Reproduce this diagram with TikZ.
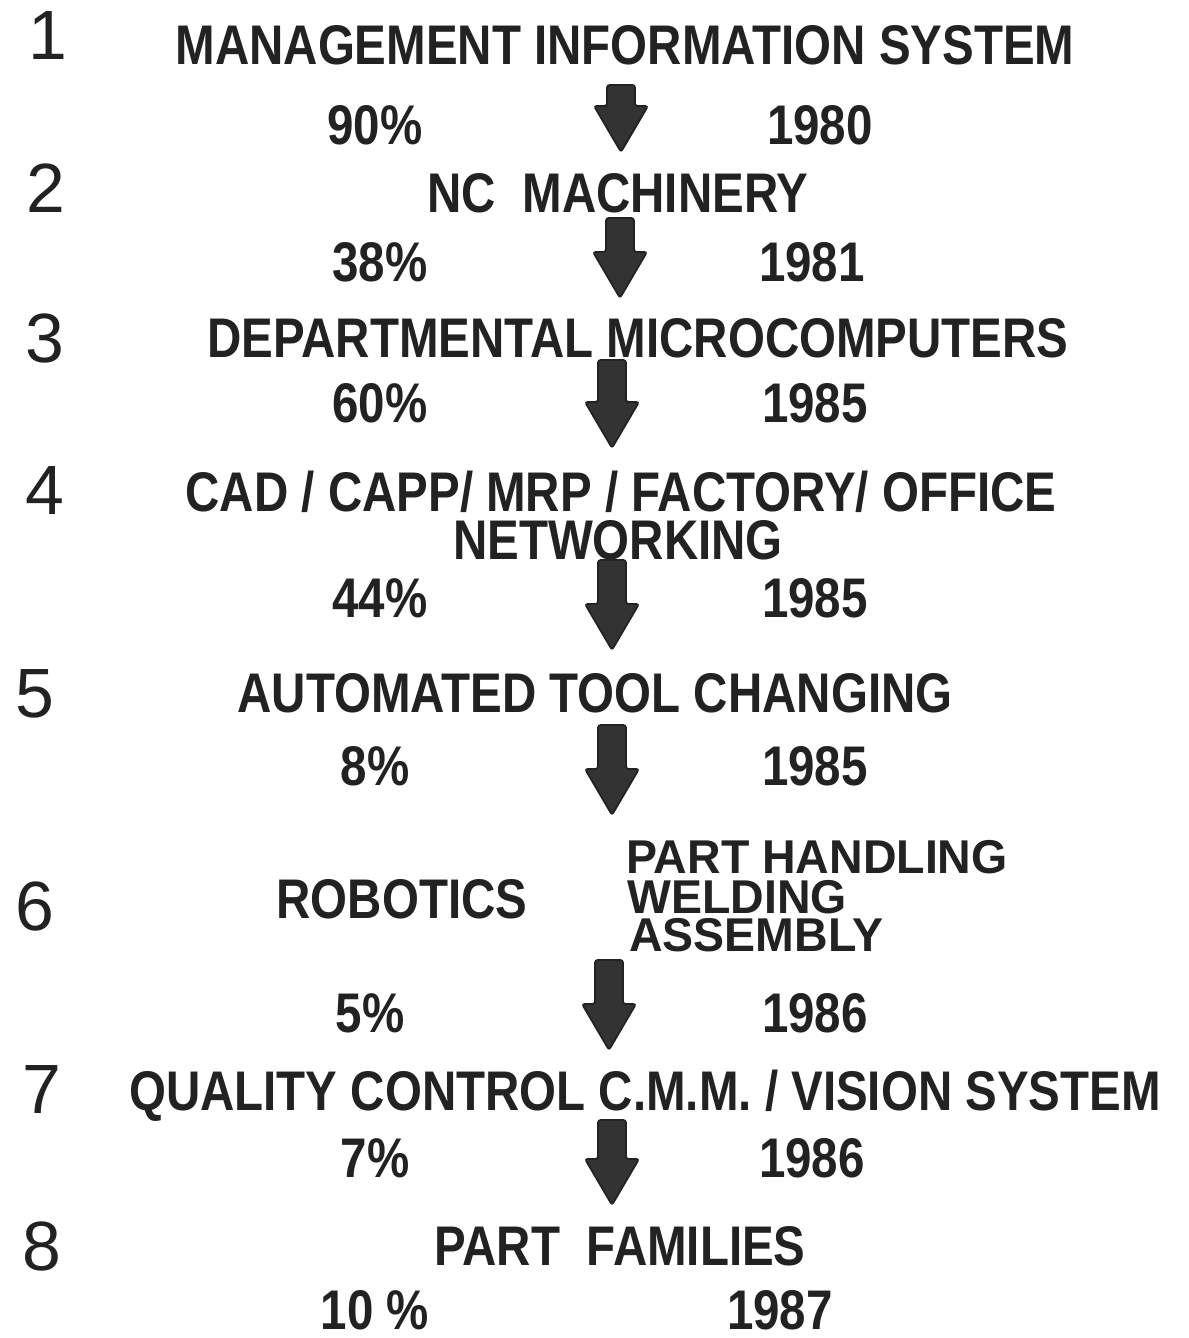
\documentclass[tikz,border=0pt]{standalone}
\usepackage{fontspec}
\setmainfont{Liberation Sans}
\newfontfamily\lettering[FakeStretch=0.85]{Liberation Sans}
\newfontfamily\stacklettering[FakeStretch=0.98]{Liberation Sans}
\usetikzlibrary{positioning}

\definecolor{ink}{HTML}{222222}
\definecolor{arrowink}{HTML}{333333}

% down arrow: x centre, shaft top, tip
\newcommand{\dnarrow}[3]{%
  \fill[arrowink, draw=ink, line width=1pt, rounded corners=1.5pt]
    (#1-14,#2) -- (#1+14,#2) -- (#1+14,#3-46) -- (#1+27,#3-46) -- (#1,#3)
    -- (#1-27,#3-46) -- (#1-14,#3-46) -- cycle;}

\begin{document}
\begin{tikzpicture}[x=0.02cm, y=-0.02cm,
    stepno/.style = {inner sep=0pt, text=ink, text height=1cm, text depth=0pt, font=\fontsize{39.7}{44}\selectfont},
    title/.style  = {inner sep=0pt, text=ink, text height=0.8cm, text depth=0pt, font=\lettering\bfseries\fontsize{31.8}{36}\selectfont},
    stack/.style  = {inner sep=0pt, text=ink, text height=0.68cm, text depth=0pt, anchor=west, font=\stacklettering\bfseries\fontsize{27}{30}\selectfont},
    figure/.style = {title}
]
\useasboundingbox (0,0) rectangle (1189,1338);

% Step numbers
\node (n1) [stepno] at (48, 35) {1};
\node (n2) [stepno] at (46, 188) {2};
\node (n3) [stepno] at (45, 338) {3};
\node (n4) [stepno] at (45, 490) {4};
\node (n5) [stepno] at (35, 692) {5};
\node (n6) [stepno] at (35, 905) {6};
\node (n7) [stepno] at (42, 1088) {7};
\node (n8) [stepno] at (42, 1245) {8};

% Technologies
\node (t1) [title] at (625, 45) {MANAGEMENT INFORMATION SYSTEM};
\node (t2) [title] at (618, 193) {NC\ \ MACHINERY};
\node (t3) [title] at (638, 338) {DEPARTMENTAL MICROCOMPUTERS};
\node (t4) [title] at (621, 491) {CAD / CAPP/ MRP / FACTORY/ OFFICE};
\node (t4b) [title] at (618, 539) {NETWORKING};
\node (t5) [title] at (595, 692) {AUTOMATED TOOL CHANGING};
\node (t6) [title] at (402, 898) {ROBOTICS};
\node (t6a) [stack] at (626, 856) {PART HANDLING};
\node (t6b) [stack] at (627, 896) {WELDING};
\node (t6c) [stack] at (629, 934) {ASSEMBLY};
\node (t7) [title] at (645, 1090) {QUALITY CONTROL C.M.M. / VISION SYSTEM};
\node (t8) [title] at (620, 1245) {PART\ \ FAMILIES};

% Percentages and years
\node (p1) [figure] at (375, 125) {90\%};   \node (y1) [figure] at (820, 125) {1980};
\node (p2) [figure] at (380, 262) {38\%};   \node (y2) [figure] at (812, 262) {1981};
\node (p3) [figure] at (380, 403) {60\%};   \node (y3) [figure] at (815, 403) {1985};
\node (p4) [figure] at (380, 597) {44\%};   \node (y4) [figure] at (815, 597) {1985};
\node (p5) [figure] at (375, 765) {8\%};    \node (y5) [figure] at (815, 765) {1985};
\node (p6) [figure] at (370, 1012) {5\%};   \node (y6) [figure] at (815, 1012) {1986};
\node (p7) [figure] at (375, 1157) {7\%};   \node (y7) [figure] at (812, 1157) {1986};
\node (p8) [figure] at (375, 1309) {10 \%}; \node (y8) [figure] at (780, 1309) {1987};

% Arrows
\dnarrow{621}{85}{152}
\dnarrow{620}{218}{298}
\dnarrow{612}{360}{448}
\dnarrow{612}{560}{650}
\dnarrow{612}{725}{815}
\dnarrow{609}{960}{1050}
\dnarrow{612}{1120}{1205}

\end{tikzpicture}
\end{document}
